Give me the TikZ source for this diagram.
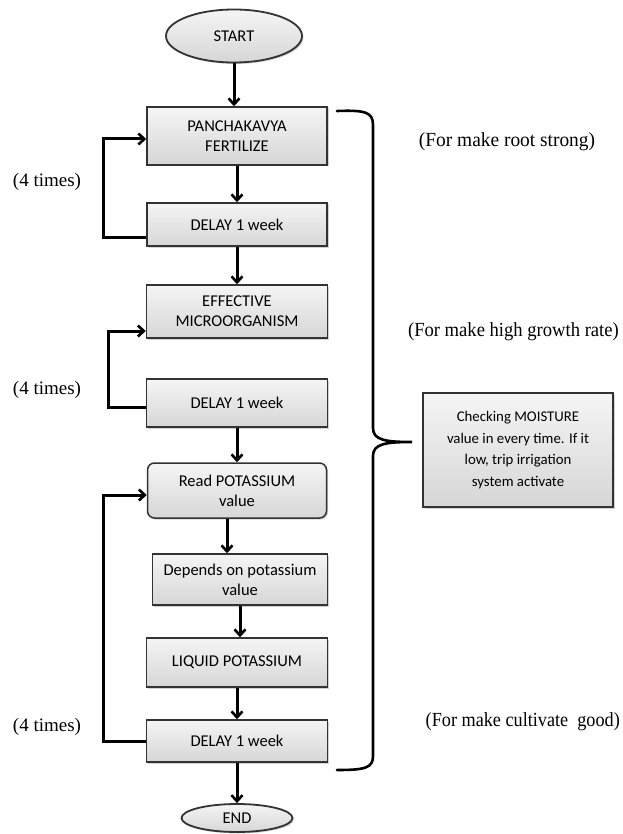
\documentclass[tikz,border=0pt]{standalone}
\usepackage{fontspec}
\setmainfont{Liberation Serif}
\newfontfamily\boxfont{Carlito}
\usetikzlibrary{arrows.meta,shapes.geometric,shadows}
\begin{document}
\begin{tikzpicture}[x=1pt,y=-1pt,
  arr/.style={line width=3pt,-{Straight Barb[length=6pt,width=11pt,line width=2.6pt]}},
  flowbox/.style={draw=black!80,line width=1.5pt,top color=gray!8,bottom color=gray!32,
    drop shadow={shadow xshift=1.5pt,shadow yshift=-1.5pt,opacity=0.35},
    font=\boxfont\fontsize{16.5}{20}\selectfont,text=black,align=center,inner sep=2pt},
  term/.style={flowbox,ellipse,line width=1.8pt},
  note/.style={font=\fontsize{20}{24}\selectfont,text=black,inner sep=1pt}]
\useasboundingbox (0,0) rectangle (622,834);
\fill[white] (0,0) rectangle (622,834);

\node[term,minimum width=136pt,minimum height=53pt] (start) at (234,36) {START};
\node[flowbox,minimum width=180pt,minimum height=58pt] (p1) at (237,136) {PANCHAKAVYA\\FERTILIZE};
\node[flowbox,minimum width=180pt,minimum height=43pt] (d1) at (237,224.5) {DELAY 1 week};
\node[flowbox,minimum width=181pt,minimum height=53pt] (e1) at (237,311.5) {EFFECTIVE\\MICROORGANISM};
\node[flowbox,minimum width=181pt,minimum height=48pt] (d2) at (237,403) {DELAY 1 week};
\node[flowbox,rounded corners=7pt,minimum width=179pt,minimum height=55pt] (r1) at (237,490.5) {Read POTASSIUM\\value};
\node[flowbox,minimum width=175pt,minimum height=51pt] (dep) at (240,579.5) {Depends on potassium\\value};
\node[flowbox,minimum width=181pt,minimum height=49pt] (liq) at (237,662.5) {LIQUID POTASSIUM};
\node[flowbox,minimum width=181pt,minimum height=42pt] (d3) at (237,741) {DELAY 1 week};
\node[term,minimum width=111pt,minimum height=28pt] (end) at (237,818) {END};

\draw[arr] (start.south) -- (start.south |- p1.north);
\draw[arr] (p1.south) -- (p1.south |- d1.north);
\draw[arr] (d1.south) -- (d1.south |- e1.north);
\draw[arr] (d2.south) -- (d2.south |- r1.north);
\draw[arr] ([xshift=-10pt]r1.south) -- ([xshift=-10pt]r1.south |- dep.north);
\draw[arr] (dep.south) -- (dep.south |- liq.north);
\draw[arr] (liq.south) -- (liq.south |- d3.north);
\draw[arr] (d3.south) -- (d3.south |- end.north);

\draw[arr] ([yshift=-12.5pt]d1.west) -- ++(-43,0) |- ([yshift=-3pt]p1.west);
\draw[arr] ([yshift=-4pt]d2.west) -- ++(-37.5,0) |- ([yshift=-19.5pt]e1.west);
\draw[arr] (d3.west) -- ++(-42,0) |- ([yshift=-4.5pt]r1.west);

\node[note,font=\fontsize{19}{23}\selectfont] (t1) at (47,182) {(4 times)};
\node[note,font=\fontsize{19}{23}\selectfont] (t2) at (47,390) {(4 times)};
\node[note,font=\fontsize{19}{23}\selectfont] (t3) at (47,727) {(4 times)};

% brace
\draw[line width=2.6pt,line cap=round]
  (337,111) .. controls (365,110) and (373,112) .. (373,125)
  -- (373,428) .. controls (373,440) and (385,442) .. (412,442)
  .. controls (385,442) and (373,444) .. (373,456)
  -- (373,756) .. controls (373,768) and (365,770) .. (337,770);

\node[note] (n1) at (507,142) {\scalebox{0.97}[1]{(For make root strong)}};
\node[note,anchor=east] (n2) at (620,332) {\scalebox{0.93}[1]{(For make high growth rate)}};
\node[note,anchor=east] (n3) at (621,722) {\scalebox{0.91}[1]{(For make cultivate\ \ good)}};
\node[flowbox,minimum width=190pt,minimum height=114pt,font=\boxfont\fontsize{14.8}{21.5}\selectfont] (m) at (518,450)
  {Checking MOISTURE\\value in every time. If it\\low, trip irrigation\\system activate};
\end{tikzpicture}
\end{document}
